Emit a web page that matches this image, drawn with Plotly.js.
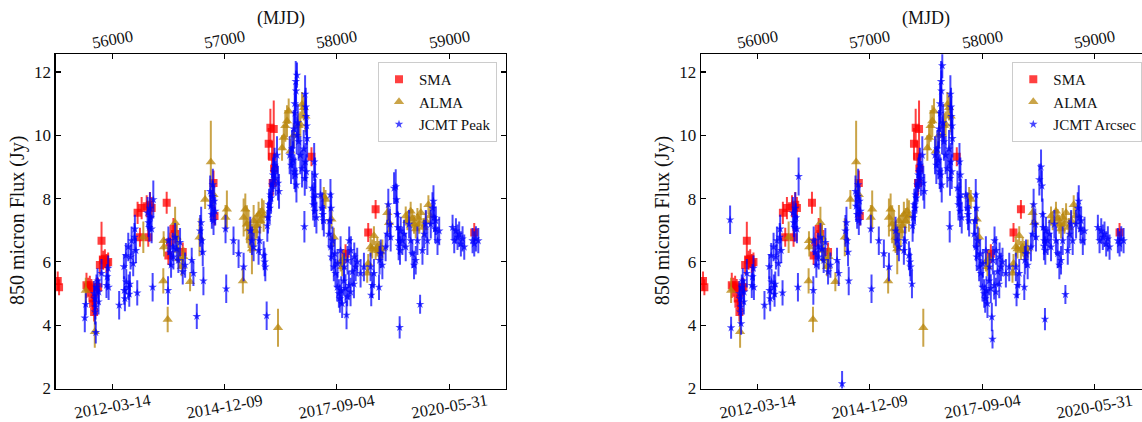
<!DOCTYPE html>
<html>
<head>
<meta charset="utf-8">
<script src="https://cdn.plot.ly/plotly-3.0.1.min.js"></script>
<style>
  html, body { margin: 0; padding: 0; overflow: hidden; background: #fff; }
  #chart { width: 1160px; height: 422px; }
</style>
</head>
<body>
<div id="chart"></div>
<script>
// ---------------- DATA ----------------
const mjdTicks = [56000, 57000, 58000, 59000];
const dateTickLabels = ['2012-03-14', '2014-12-09', '2017-09-04', '2020-05-31'];
const fluxTicks = [2, 4, 6, 8, 10, 12];

const smaMjd = [55515,55527,55771,55786,55801,55815,55824,55830,55839,55860,
  55875,55890,55905,55920,55935,55949,55964,56226,56247,56262,
  56307,56321,56336,56351,56485,56500,56515,56545,56560,56628,
  56902,56911,57393,57408,57423,57429,57438,57441,57774,58077,
  58279,58345,59223];
const smaFlux = [5.40,5.20,5.26,5.20,5.26,5.16,4.84,4.68,4.42,5.20,
  5.20,5.90,6.67,6.05,6.10,5.95,6.00,7.55,6.78,7.70,
  7.76,6.78,7.81,7.70,7.87,6.20,6.62,7.04,6.88,6.31,
  8.49,7.45,9.73,10.24,9.32,8.49,10.20,8.95,9.32,6.26,
  6.93,7.66,6.93];
const smaErr = [0.3,0.25,0.4,0.3,0.3,0.3,0.3,0.3,0.3,0.3,
  0.3,0.3,0.6,0.3,0.3,0.3,0.3,0.35,0.3,0.35,
  0.35,0.3,0.4,0.35,0.35,0.3,0.3,0.35,0.3,0.3,
  0.4,0.3,0.5,0.6,0.5,0.4,0.9,0.5,0.3,0.3,
  0.3,0.3,0.3];

const almaMjd = [55765,55845,56277,56455,56458,56461,56494,56560,56574,56585,
  56595,56619,56634,56693,56777,56827,56878,56902,57009,57021,
  57163,57170,57185,57199,57214,57229,57244,57259,57274,57289,
  57303,57318,57333,57348,57476,57512,57527,57541,57556,57571,
  57586,57616,57660,57675,57690,57705,57720,57884,57899,57952,
  57973,58033,58047,58062,58270,58279,58300,58315,58330,58345,
  58360,58375,58390,58405,58449,58464,58613,58628,58657,58672,
  58687,58702,58717,58732,58747,58770,58792,58815,58830];
const almaFlux = [5.10,3.79,6.78,5.40,6.67,6.47,4.18,7.24,6.78,6.36,
  6.10,5.85,6.16,5.37,6.78,7.97,9.16,8.12,7.40,7.66,
  5.40,7.40,7.66,7.19,7.04,6.78,6.41,7.30,6.98,7.14,
  7.50,7.30,7.60,7.45,3.92,9.60,9.93,10.30,10.45,10.76,
  9.50,10.00,10.30,10.35,10.97,10.87,10.60,8.07,7.97,7.35,
  6.78,6.00,5.85,6.10,5.64,5.95,6.47,6.41,6.83,6.36,
  6.47,6.36,6.31,6.41,7.55,7.24,7.45,7.30,7.60,7.36,
  7.19,7.04,7.40,7.19,7.55,7.09,7.30,7.81,7.45];
const almaErr = [0.4,0.5,0.5,0.4,0.3,0.3,0.4,0.5,0.4,0.4,
  0.3,0.3,0.3,0.3,0.6,0.3,1.3,0.4,0.4,0.6,
  0.4,0.6,0.5,0.6,0.6,0.5,0.8,0.5,0.5,0.4,
  0.4,0.4,0.4,0.5,0.6,0.4,0.4,0.5,0.5,0.4,
  0.4,0.4,0.4,0.4,0.4,0.4,0.5,0.3,0.3,0.3,
  0.3,0.3,0.3,0.3,0.3,0.3,0.3,0.3,0.3,0.3,
  0.3,0.3,0.3,0.3,0.3,0.3,0.3,0.3,0.3,0.3,
  0.3,0.3,0.3,0.3,0.3,0.3,0.3,0.3,0.3];

const jcmtMjd = [55756,55765,55839,55845,55848,55851,55854,55860,55869,55878,
  55881,55905,55949,55955,55964,55968,56062,56104,56107,56113,
  56122,56125,56143,56146,56152,56158,56164,56173,56187,56198,
  56202,56211,56223,56315,56324,56330,56336,56342,56351,56360,
  56366,56497,56500,56515,56524,56539,56545,56560,56574,56589,
  56604,56628,56649,56708,56723,56753,56783,56792,56798,56806,
  56812,56872,56878,56887,56893,56896,56902,56908,56917,57009,
  57015,57080,57125,57170,57229,57244,57259,57303,57312,57348,
  57357,57363,57375,57381,57387,57396,57402,57408,57414,57423,
  57432,57438,57446,57455,57467,57476,57485,57580,57592,57601,
  57610,57616,57622,57625,57628,57631,57634,57637,57640,57643,
  57645,57652,57660,57675,57690,57705,57711,57714,57717,57720,
  57723,57726,57729,57732,57735,57780,57789,57795,57798,57803,
  57806,57809,57818,57854,57869,57874,57884,57928,57937,57943,
  57946,57949,57952,57961,57973,57982,57988,58003,58006,58018,
  58027,58033,58039,58047,58062,58065,58077,58086,58092,58095,
  58107,58110,58122,58125,58137,58152,58155,58167,58181,58211,
  58241,58300,58306,58315,58330,58375,58380,58390,58405,58434,
  58449,58458,58473,58479,58509,58524,58532,58538,58544,58550,
  58553,58559,58562,58568,58583,58598,58613,58643,58657,58672,
  58687,58702,58717,58741,58762,58777,58792,58806,58836,58851,
  58860,58866,58875,58881,58896,58911,59030,59045,59060,59074,
  59089,59104,59119,59134,59208,59223,59238,59259];
const jcmtPeak = [4.23,4.66,5.00,4.84,4.42,4.58,3.77,5.20,5.40,4.74,
  5.05,5.64,5.26,5.53,5.80,5.20,4.63,5.85,5.10,4.84,
  6.20,5.37,6.47,5.20,4.98,5.30,6.16,6.67,5.95,6.78,
  7.04,6.36,5.02,7.55,7.24,7.09,7.70,7.40,7.04,5.20,
  7.97,5.10,6.67,6.31,5.90,6.47,6.16,6.78,6.41,6.05,
  6.62,5.69,5.90,6.05,5.64,4.28,6.98,7.24,6.67,6.31,
  5.40,8.23,7.76,7.50,8.07,8.44,7.30,7.92,7.60,7.04,
  5.15,6.67,6.26,5.84,6.98,6.67,6.47,6.36,6.67,6.20,
  6.00,5.84,4.30,7.14,7.40,7.81,7.70,8.12,8.02,8.43,
  8.75,8.85,9.06,8.64,9.37,8.49,8.23,9.37,9.06,9.57,
  9.21,10.2,8.85,11.0,10.7,8.75,11.7,11.4,8.43,10.0,
  11.9,10.4,9.80,9.37,8.95,9.57,7.11,8.64,11.3,9.16,
  10.9,10.6,8.85,10.3,9.90,8.33,7.81,8.02,9.16,7.60,
  8.75,8.12,7.40,8.12,7.70,7.50,7.30,6.88,7.30,8.12,
  6.47,7.70,6.16,6.67,5.84,6.26,5.64,5.20,5.95,5.00,
  4.84,6.36,5.10,4.68,5.40,5.84,5.16,4.32,4.90,6.05,
  5.26,6.67,5.05,6.36,5.69,5.30,6.16,5.84,6.00,5.64,
  5.84,5.84,4.95,5.26,5.64,5.20,6.05,6.26,5.90,6.47,
  6.88,7.81,7.19,6.78,8.33,8.38,7.97,7.50,7.09,6.50,
  6.67,3.93,6.36,6.98,6.67,6.88,6.47,7.19,6.67,6.26,
  5.90,6.05,6.67,4.66,6.36,6.88,7.19,6.67,7.19,7.70,
  7.92,7.40,7.04,7.30,6.67,6.98,7.09,6.67,6.98,6.78,
  6.88,6.57,6.73,6.47,6.67,6.57,6.73,6.67];
const jcmtArcsec = [7.33,3.92,5.00,4.84,4.42,4.58,4.05,5.20,5.40,4.74,
  5.05,5.64,5.26,5.53,5.80,5.20,4.63,5.85,5.10,4.84,
  6.20,5.37,6.47,5.20,4.98,5.30,6.16,6.67,5.95,6.78,
  7.04,6.36,5.02,7.55,7.24,7.09,7.70,7.40,7.04,5.20,
  8.70,5.10,6.67,6.31,5.90,6.47,6.16,6.78,6.41,6.05,
  6.62,5.69,5.90,6.05,5.64,2.15,6.98,7.24,6.67,6.31,
  5.40,8.23,7.76,7.50,8.07,8.44,7.30,7.92,7.60,7.04,
  5.15,6.67,6.26,5.84,6.98,6.67,6.47,6.36,6.67,6.20,
  6.00,5.84,5.30,7.14,7.40,7.81,7.70,8.12,8.02,8.43,
  8.75,8.85,9.06,8.64,9.37,8.49,8.23,9.37,9.06,9.57,
  9.21,10.2,8.85,11.0,10.7,8.75,11.7,11.4,8.43,10.0,
  12.2,10.4,9.80,9.37,8.95,9.57,7.11,8.64,11.3,9.16,
  10.9,10.6,8.85,10.3,9.90,8.33,7.81,8.02,9.16,7.60,
  8.75,8.12,7.40,8.12,7.70,7.50,7.30,6.88,7.30,8.12,
  6.47,7.70,6.16,6.67,5.84,6.26,5.64,5.20,5.95,5.00,
  4.84,6.36,5.10,4.68,5.40,5.84,5.16,4.26,3.56,6.05,
  5.26,6.67,5.05,6.36,5.69,5.30,6.16,5.84,6.00,5.64,
  5.84,5.84,4.95,5.26,5.64,5.20,6.05,6.26,5.90,6.47,
  6.88,7.81,7.19,6.78,8.60,9.00,8.40,7.50,7.09,6.50,
  6.67,4.19,6.36,6.98,6.67,6.88,6.47,7.19,6.67,6.26,
  5.90,6.05,6.67,4.97,6.36,6.88,7.19,6.67,7.19,7.70,
  7.92,7.40,7.04,7.30,6.67,6.98,7.09,6.67,6.98,6.78,
  6.88,6.57,6.73,6.47,6.67,6.57,6.73,6.67];
const jcmtErr = [0.45,0.35,0.4,0.4,0.4,0.4,0.35,0.4,0.4,0.4,
  0.4,0.45,0.4,0.4,0.4,0.4,0.45,0.4,0.45,0.4,
  0.4,0.4,0.45,0.4,0.4,0.4,0.4,0.45,0.4,0.45,
  0.45,0.4,0.4,0.5,0.45,0.45,0.5,0.45,0.45,0.45,
  0.6,0.45,0.45,0.45,0.4,0.45,0.4,0.45,0.4,0.4,
  0.45,0.4,0.4,0.4,0.4,0.4,0.5,0.5,0.45,0.45,
  0.45,0.5,0.5,0.45,0.5,0.5,0.45,0.5,0.45,0.45,
  0.45,0.45,0.45,0.45,0.45,0.45,0.45,0.45,0.45,0.45,
  0.45,0.45,0.45,0.5,0.5,0.5,0.5,0.5,0.5,0.55,
  0.55,0.55,0.55,0.55,0.6,0.55,0.55,0.6,0.6,0.6,
  0.6,0.6,0.55,0.65,0.6,0.55,0.65,0.65,0.55,0.6,
  0.4,0.6,0.6,0.6,0.6,0.6,0.5,0.55,0.6,0.6,
  0.6,0.6,0.55,0.6,0.6,0.55,0.5,0.5,0.6,0.5,
  0.55,0.5,0.5,0.5,0.5,0.5,0.5,0.45,0.45,0.5,
  0.45,0.5,0.45,0.45,0.45,0.45,0.45,0.45,0.45,0.45,
  0.45,0.45,0.45,0.45,0.45,0.45,0.45,0.45,0.3,0.45,
  0.45,0.45,0.45,0.45,0.45,0.45,0.45,0.45,0.45,0.45,
  0.45,0.45,0.35,0.4,0.45,0.4,0.45,0.45,0.45,0.45,
  0.45,0.5,0.5,0.45,0.5,0.55,0.5,0.5,0.5,0.45,
  0.45,0.35,0.45,0.45,0.45,0.45,0.45,0.45,0.45,0.45,
  0.45,0.45,0.45,0.3,0.45,0.45,0.45,0.45,0.45,0.5,
  0.5,0.45,0.45,0.45,0.45,0.45,0.4,0.4,0.4,0.4,
  0.4,0.4,0.4,0.4,0.4,0.4,0.4,0.4];

// ---------------- LAYOUT GEOMETRY ----------------
const W = 1160, H = 422;
const plotTop = 54.3, plotBottom = 388.5;
const panelL = [55.7, 505.7], panelR = [701, 1151];
const xRange = [55497, 59503];
const yRange = [2, 12.56];
const FONT = 'Liberation Serif, "Times New Roman", serif';

const yDom = [(H - plotBottom) / H, (H - plotTop) / H];
const domL = [panelL[0] / W, panelL[1] / W];
const domR = [panelR[0] / W, panelR[1] / W];

const common = {
  showline: true, linecolor: '#000', linewidth: 1.4,
  ticks: 'inside', ticklen: 5, tickwidth: 1.1, tickcolor: '#000',
  showgrid: false, zeroline: false, fixedrange: true
};
function axBottom(dom, y) {
  return Object.assign({}, common, { domain: dom, range: xRange, anchor: y,
    tickmode: 'array', tickvals: mjdTicks, showticklabels: false });
}
function axTop(dom, y, over) {
  return Object.assign({}, common, { domain: dom, range: xRange, anchor: y,
    overlaying: over, side: 'top', tickmode: 'array', tickvals: mjdTicks,
    showticklabels: false });
}
function axY(x) {
  return Object.assign({}, common, { domain: yDom, range: yRange, anchor: x,
    mirror: 'ticks', tickmode: 'array', tickvals: fluxTicks,
    tickfont: { family: FONT, size: 17, color: '#111' } });
}

const RED = 'rgba(255,0,0,0.75)';
const GOLD = 'rgba(184,134,11,0.75)';
const BLUE = 'rgba(0,0,255,0.72)';

function series(x, y, err, name, symbol, size, color, xa, ya, legend) {
  return {
    type: 'scatter', mode: 'markers', x: x, y: y, name: name,
    xaxis: xa, yaxis: ya, legend: legend, cliponaxis: true,
    marker: { symbol: symbol, size: size, color: color, line: { width: 0 } },
    error_y: { type: 'data', array: err, visible: true, color: color, thickness: 2, width: 0 },
    hoverinfo: 'skip'
  };
}

const data = [
  series(smaMjd, smaFlux, smaErr, 'SMA', 'square', 8, RED, 'x', 'y', 'legend'),
  series(almaMjd, almaFlux, almaErr, 'ALMA', 'triangle-up', 9, GOLD, 'x', 'y', 'legend'),
  series(jcmtMjd, jcmtPeak, jcmtErr, 'JCMT Peak', 'star', 6.5, BLUE, 'x', 'y', 'legend'),
  series(smaMjd, smaFlux, smaErr, 'SMA', 'square', 8, RED, 'x3', 'y2', 'legend2'),
  series(almaMjd, almaFlux, almaErr, 'ALMA', 'triangle-up', 9, GOLD, 'x3', 'y2', 'legend2'),
  series(jcmtMjd, jcmtArcsec, jcmtErr, 'JCMT Arcsec', 'star', 6.5, BLUE, 'x3', 'y2', 'legend2'),
  { type: 'scatter', x: [], y: [], xaxis: 'x2', yaxis: 'y', showlegend: false, hoverinfo: 'skip' },
  { type: 'scatter', x: [], y: [], xaxis: 'x4', yaxis: 'y2', showlegend: false, hoverinfo: 'skip' }
];

const annotations = [];
[['x', panelL], ['x3', panelR]].forEach(function (p) {
  const xr = p[0], pan = p[1];
  mjdTicks.forEach(function (v, i) {
    annotations.push({ xref: xr, yref: 'paper', x: v, y: (H - 40) / H, text: String(v),
      showarrow: false, textangle: -10, xanchor: 'center', yanchor: 'middle',
      font: { family: FONT, size: 16.5, color: '#111' } });
    annotations.push({ xref: xr, yref: 'paper', x: v, y: (H - 406) / H, text: dateTickLabels[i],
      showarrow: false, textangle: -10, xanchor: 'center', yanchor: 'middle',
      font: { family: FONT, size: 16.5, color: '#111' } });
  });
  annotations.push({ xref: 'paper', yref: 'paper', x: (pan[0] + pan[1]) / 2 / W, y: (H - 18) / H,
    text: '(MJD)', showarrow: false, xanchor: 'center', yanchor: 'middle',
    font: { family: FONT, size: 18, color: '#111' } });
  annotations.push({ xref: 'paper', yref: 'paper', x: (pan[0] - 38.7) / W, y: (H - 221) / H,
    text: '850 micron Flux (Jy)', showarrow: false, textangle: -90,
    xanchor: 'center', yanchor: 'middle',
    font: { family: FONT, size: 20, color: '#111' } });
});

const legendStyle = {
  xanchor: 'right', yanchor: 'top', y: (H - 62) / H,
  bgcolor: 'rgba(255,255,255,0.85)', bordercolor: '#cccccc', borderwidth: 1,
  font: { family: FONT, size: 15, color: '#111' }, itemclick: false, itemdoubleclick: false
};

const layout = {
  width: W, height: H,
  margin: { l: 0, r: 0, t: 0, b: 0 },
  paper_bgcolor: '#fff', plot_bgcolor: '#fff',
  font: { family: FONT, size: 17, color: '#111' },
  showlegend: true,
  xaxis: axBottom(domL, 'y'),
  xaxis2: axTop(domL, 'y', 'x'),
  yaxis: axY('x'),
  xaxis3: axBottom(domR, 'y2'),
  xaxis4: axTop(domR, 'y2', 'x3'),
  yaxis2: axY('x3'),
  legend: Object.assign({}, legendStyle, { x: 497 / W }),
  legend2: Object.assign({}, legendStyle, { x: 1142.3 / W }),
  annotations: annotations
};

Plotly.newPlot('chart', data, layout, { staticPlot: true, displayModeBar: false });
</script>
</body>
</html>
